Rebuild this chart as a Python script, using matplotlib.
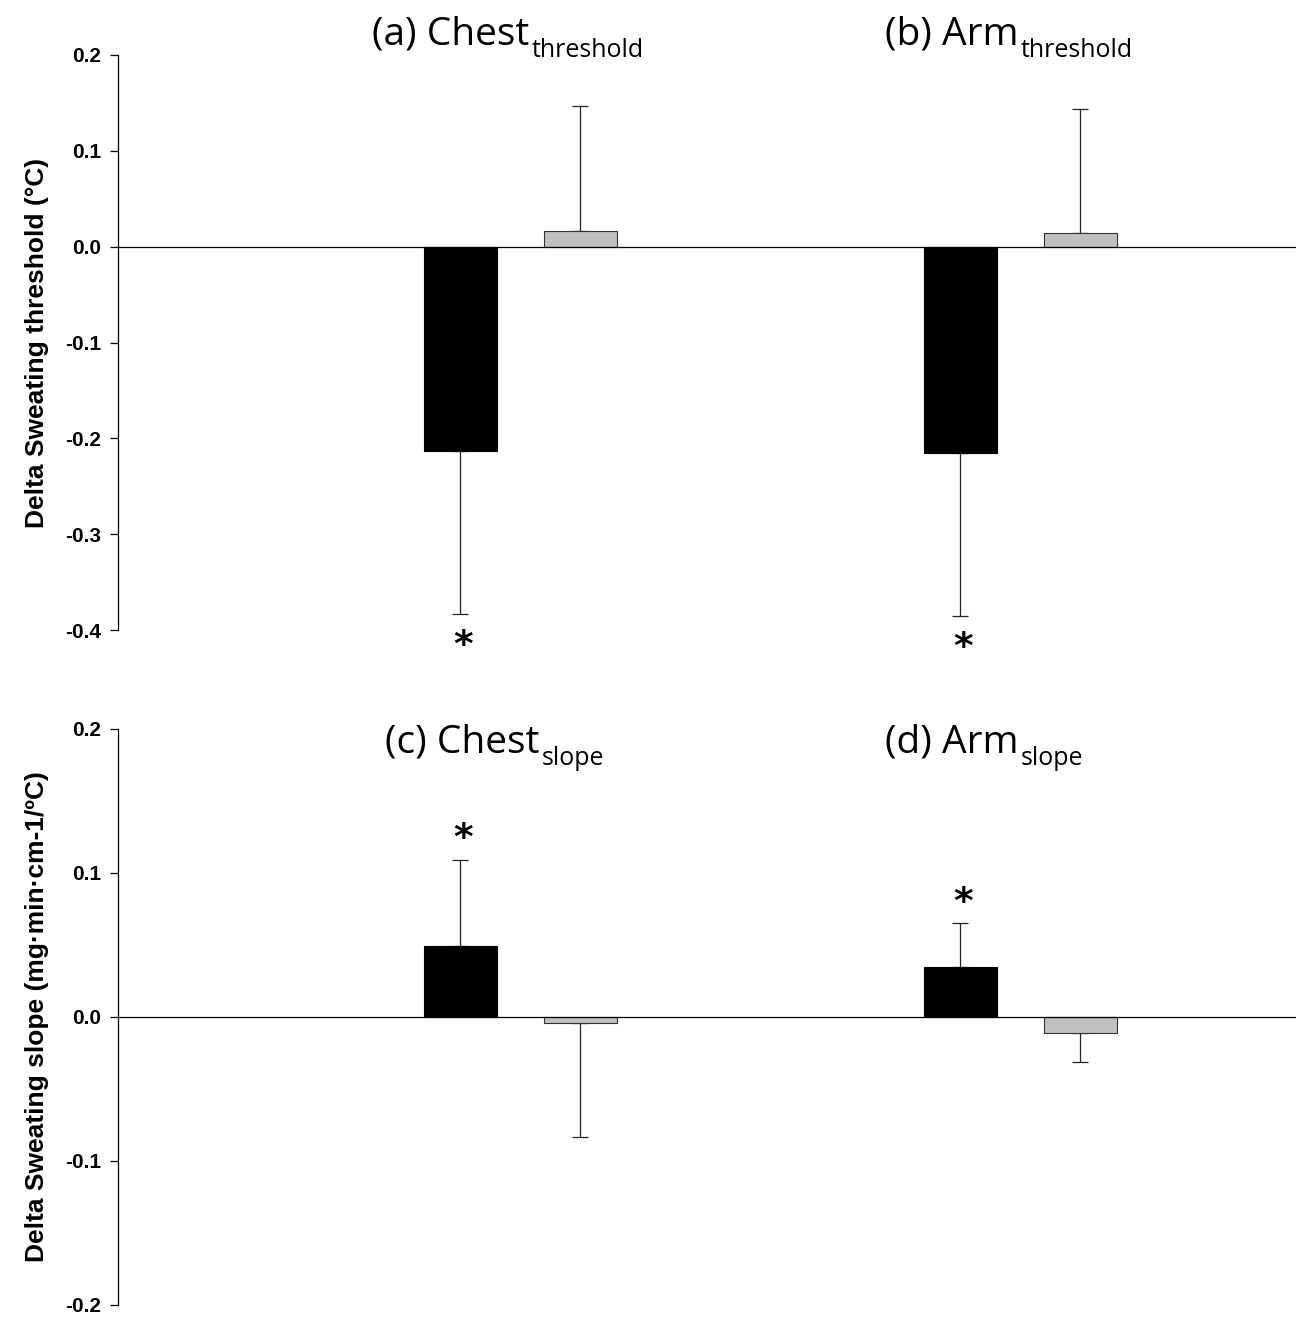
import matplotlib
matplotlib.use("Agg")
import matplotlib.pyplot as plt
import numpy as np

# ---- data ----
sites = ["Chest", "Arm"]
threshold_black = [-0.213, -0.215]
threshold_black_err = [0.170, 0.170]
threshold_gray = [0.016, 0.014]
threshold_gray_err = [0.131, 0.130]
slope_black = [0.049, 0.035]
slope_black_err = [0.060, 0.030]
slope_gray = [-0.004, -0.011]
slope_gray_err = [0.079, 0.020]
threshold_titles = [("(a) Chest", "threshold"), ("(b) Arm", "threshold")]
slope_titles = [("(c) Chest", "slope"), ("(d) Arm", "slope")]
threshold_ticks = [0.2, 0.1, 0.0, -0.1, -0.2, -0.3, -0.4]
slope_ticks = [0.2, 0.1, 0.0, -0.1, -0.2]
ylabel_top = "Delta Sweating threshold (\u00b0C)"
ylabel_bottom = "Delta Sweating slope (mg\u00b7min\u00b7cm-1/\u00baC)"

W, H = 1305, 1320
fig = plt.figure(figsize=(W / 100, H / 100), dpi=100)

tick_font = dict(family="Liberation Sans", weight="bold", size=15)
label_font = dict(family="Liberation Sans", weight="bold", size=19)
title_family = "Open Sans"

def fx(px):
    return px / W

def fy(py):
    return 1 - py / H

def yerr_of(vals, errs):
    lo = [e if v < 0 else 0 for v, e in zip(vals, errs)]
    hi = [e if v >= 0 else 0 for v, e in zip(vals, errs)]
    return [lo, hi]

def panel(ax, black, black_err, gray, gray_err, ticks, ylabel):
    x = np.arange(len(sites))
    off, w = 0.12, 0.146
    ax.bar(x - off, black, w, color="black", edgecolor="black", linewidth=0.8, zorder=3)
    ax.bar(x + off, gray, w, color="#c0c0c0", edgecolor="#333333", linewidth=0.8, zorder=3)
    ax.errorbar(x - off, black, yerr=yerr_of(black, black_err), fmt="none",
                ecolor="#222222", elinewidth=0.9, capsize=6, capthick=0.9, zorder=2)
    ax.errorbar(x + off, gray, yerr=yerr_of(gray, gray_err), fmt="none",
                ecolor="#222222", elinewidth=0.9, capsize=6, capthick=0.9, zorder=2)
    ax.axhline(0, color="black", linewidth=0.9, zorder=4)
    # significance asterisks beyond black bar error ends
    for xi, v, e in zip(x, black, black_err):
        end = v + e if v >= 0 else v - e
        dy = 15 if v >= 0 else -23
        ax.annotate("*", xy=(xi - off + 0.006, end), xytext=(0, dy), textcoords="offset points",
                    ha="center", va="center", fontsize=27, family="DejaVu Sans",
                    weight="bold", annotation_clip=False)
    ax.set_xlim(-0.804, 1.552)
    ax.set_ylim(min(ticks), max(ticks))
    ax.set_yticks(ticks)
    ax.set_yticklabels([f"{t:.1f}" for t in ticks], **tick_font)
    ax.set_xticks([])
    for s in ["top", "right", "bottom"]:
        ax.spines[s].set_visible(False)
    ax.spines["left"].set_linewidth(0.9)
    ax.tick_params(axis="y", direction="out", length=6, width=0.9, pad=6)
    ax.set_ylabel(ylabel, labelpad=12, **label_font)

ax1 = fig.add_axes([fx(118), fy(630), fx(1178), (630 - 55) / H])
panel(ax1, threshold_black, threshold_black_err, threshold_gray, threshold_gray_err,
      threshold_ticks, ylabel_top)
ax2 = fig.add_axes([fx(118), fy(1305), fx(1178), (1305 - 729) / H])
panel(ax2, slope_black, slope_black_err, slope_gray, slope_gray_err,
      slope_ticks, ylabel_bottom)

renderer = fig.canvas.get_renderer()

def title(main, sub, xp, base):
    t = fig.text(fx(xp), fy(base), main, ha="left", va="baseline",
                 fontsize=28, family=title_family)
    bb = t.get_window_extent(renderer)
    fig.text(bb.x1 / W + fx(2), fy(base + 13), sub, ha="left", va="baseline",
             fontsize=18, family=title_family)

for (m, s), xp in zip(threshold_titles, [372, 885]):
    title(m, s, xp, 44)
for (m, s), xp in zip(slope_titles, [385, 885]):
    title(m, s, xp, 752)

fig.savefig("out.png", dpi=100, facecolor="white")
